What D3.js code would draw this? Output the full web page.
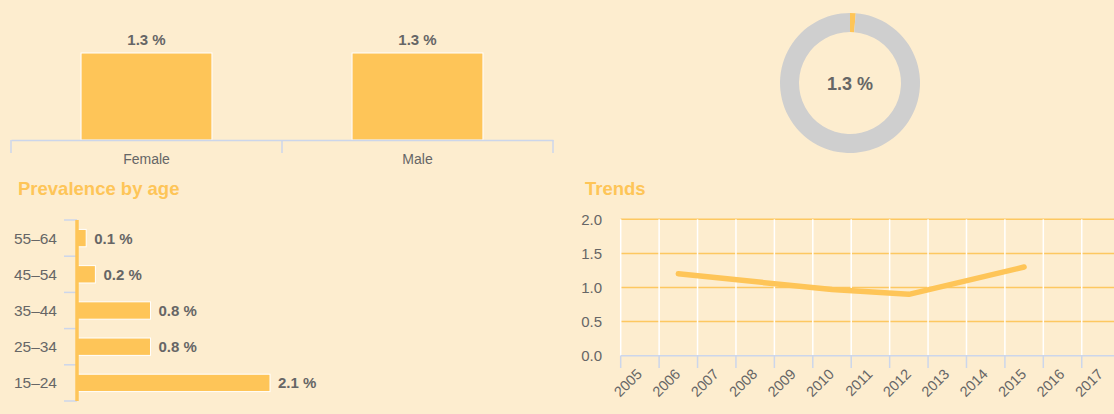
<!DOCTYPE html>
<html>
<head>
<meta charset="utf-8">
<script src="https://cdn.jsdelivr.net/npm/d3@7"></script>
<style>
  html, body { margin: 0; padding: 0; background: #fdedcf; }
  svg { display: block; }
  text { font-family: "Liberation Sans", Arial, sans-serif; }
</style>
</head>
<body>
<svg id="chart" width="1114" height="414"></svg>
<script>
// ---- Data ----
const sexCategories = ["Female", "Male"];
const sexValues = [1.3, 1.3];

const totalValue = 1.3;

const ageCategories = ["55–64", "45–54", "35–44", "25–34", "15–24"];
const ageValues = [0.1, 0.2, 0.8, 0.8, 2.1];

const trendYears = ["2005","2006","2007","2008","2009","2010","2011","2012","2013","2014","2015","2016","2017"];
const trendPointYears = ["2006", "2010", "2012", "2015"];
const trendPointValues = [1.2, 0.97, 0.9, 1.3];
const trendYTicks = [0, 0.5, 1.0, 1.5, 2.0];

const titles = ["Prevalence by age", "Trends"];

// ---- Styles ----
const BAR = "#fec558";
const TEXT = "#666666";
const AXIS = "#ccd6eb";
const DONUT_GREY = "#cfcfcf";

const svg = d3.select("#chart");

// ===== Top-left: bars by sex =====
{
  const g = svg.append("g");
  const x = d3.scaleBand().domain(sexCategories).range([11, 553]).paddingInner(0.517).paddingOuter(0.2585);
  const y = d3.scaleLinear().domain([0, 1.3]).range([140, 53]);

  g.selectAll("rect").data(sexValues).join("rect")
    .attr("x", (d, i) => x(sexCategories[i]))
    .attr("y", d => y(d))
    .attr("width", x.bandwidth())
    .attr("height", d => y(0) - y(d))
    .attr("fill", BAR)
    .attr("stroke", "#ffffff").attr("stroke-width", 1);

  g.selectAll("text.val").data(sexValues).join("text").attr("class", "val")
    .attr("x", (d, i) => x(sexCategories[i]) + x.bandwidth() / 2)
    .attr("y", d => y(d) - 8)
    .attr("text-anchor", "middle")
    .attr("font-size", 15).attr("font-weight", "bold").attr("fill", TEXT)
    .text(d => d.toFixed(1) + " %");

  const ax = g.append("g").attr("transform", "translate(0,140)")
    .call(d3.axisBottom(x).tickSize(0).tickSizeOuter(0));
  ax.select(".domain").attr("stroke", AXIS).attr("stroke-width", 1.5);
  ax.selectAll("text").attr("font-size", 14).attr("fill", TEXT).attr("dy", "1.5em")
    .attr("font-family", "'Liberation Sans', Arial, sans-serif");
  // ticks at band boundaries
  const tickPos = [11, (x(sexCategories[0]) + x.bandwidth() / 2 + x(sexCategories[1]) + x.bandwidth() / 2) / 2, 553];
  g.selectAll("line.tk").data(tickPos).join("line").attr("class", "tk")
    .attr("x1", d => d).attr("x2", d => d).attr("y1", 140).attr("y2", 153)
    .attr("stroke", AXIS).attr("stroke-width", 1.5);
}

// ===== Top-right: donut =====
{
  const g = svg.append("g").attr("transform", "translate(850,83)");
  const pie = d3.pie().sort(null).value(d => d);
  const arcs = pie([totalValue, 100 - totalValue]);
  const arc = d3.arc().innerRadius(51).outerRadius(70);
  g.selectAll("path").data(arcs).join("path")
    .attr("d", arc)
    .attr("fill", (d, i) => i === 0 ? BAR : DONUT_GREY);
  g.append("text").attr("x", 0).attr("y", 7).attr("text-anchor", "middle")
    .attr("font-size", 18).attr("font-weight", "bold").attr("fill", TEXT)
    .text(totalValue.toFixed(1) + " %");
}

// ===== Titles =====
svg.append("text").attr("x", 18).attr("y", 195)
  .attr("font-size", 18.5).attr("font-weight", "bold").attr("fill", BAR).text(titles[0]);
svg.append("text").attr("x", 585).attr("y", 195)
  .attr("font-size", 18.5).attr("font-weight", "bold").attr("fill", BAR).text(titles[1]);

// ===== Bottom-left: prevalence by age =====
{
  const g = svg.append("g");
  const y = d3.scaleBand().domain(ageCategories).range([220, 401]).paddingInner(0.52).paddingOuter(0.26);
  const x = d3.scaleLinear().domain([0, 2.1]).range([77, 270]);

  const step = y.step();
  const tickYs = d3.range(ageCategories.length + 1).map(i => 220 + i * step);
  g.selectAll("line.tk").data(tickYs).join("line").attr("class", "tk")
    .attr("x1", 64).attr("x2", 77).attr("y1", d => d).attr("y2", d => d)
    .attr("stroke", AXIS).attr("stroke-width", 1.5);

  g.selectAll("rect").data(ageValues).join("rect")
    .attr("x", x(0))
    .attr("y", (d, i) => y(ageCategories[i]))
    .attr("width", d => x(d) - x(0))
    .attr("height", y.bandwidth())
    .attr("fill", BAR)
    .attr("stroke", "#ffffff").attr("stroke-width", 1);

  g.append("line").attr("x1", 77).attr("x2", 77).attr("y1", 220).attr("y2", 401)
    .attr("stroke", BAR).attr("stroke-width", 3.5);

  g.selectAll("text.cat").data(ageCategories).join("text").attr("class", "cat")
    .attr("x", 57).attr("y", d => y(d) + y.bandwidth() / 2 + 5.5)
    .attr("text-anchor", "end").attr("font-size", 15.5).attr("fill", TEXT)
    .text(d => d);

  g.selectAll("text.val").data(ageValues).join("text").attr("class", "val")
    .attr("x", d => x(d) + 8)
    .attr("y", (d, i) => y(ageCategories[i]) + y.bandwidth() / 2 + 5.5)
    .attr("font-size", 15).attr("font-weight", "bold").attr("fill", TEXT)
    .text(d => d.toFixed(1) + " %");
}

// ===== Bottom-right: trends =====
{
  const g = svg.append("g");
  const step = 38.42;
  const x0 = 620.7;
  const x = d3.scaleBand().domain(trendYears).range([x0, x0 + step * trendYears.length]);
  const y = d3.scaleLinear().domain([0, 2]).range([355.7, 219.3]);

  g.selectAll("line.hg").data(trendYTicks.filter(v => v > 0)).join("line").attr("class", "hg")
    .attr("x1", x0).attr("x2", 1114).attr("y1", d => y(d)).attr("y2", d => y(d))
    .attr("stroke", "#fdc861").attr("stroke-width", 1.5);

  g.selectAll("line.vg").data(trendYears).join("line").attr("class", "vg")
    .attr("x1", d => x(d)).attr("x2", d => x(d)).attr("y1", 219.3).attr("y2", 355.7)
    .attr("stroke", "#ffffff").attr("stroke-width", 1.5);

  g.append("line").attr("x1", x0).attr("x2", 1114).attr("y1", 355.7).attr("y2", 355.7)
    .attr("stroke", AXIS).attr("stroke-width", 1.5);
  g.selectAll("line.tk").data(trendYears).join("line").attr("class", "tk")
    .attr("x1", d => x(d)).attr("x2", d => x(d)).attr("y1", 355.7).attr("y2", 368)
    .attr("stroke", AXIS).attr("stroke-width", 1.5);

  g.selectAll("text.yr").data(trendYears).join("text").attr("class", "yr")
    .attr("transform", d => `translate(${x(d) + x.bandwidth() / 2 + 3},375) rotate(-45)`)
    .attr("text-anchor", "end").attr("font-size", 14.5).attr("fill", TEXT)
    .text(d => d);

  g.selectAll("text.yl").data(trendYTicks).join("text").attr("class", "yl")
    .attr("x", 602).attr("y", d => y(d) + 5.5)
    .attr("text-anchor", "end").attr("font-size", 15).attr("fill", TEXT)
    .text(d => d.toFixed(1));

  const line = d3.line()
    .x((d, i) => x(trendPointYears[i]) + x.bandwidth() / 2)
    .y(d => y(d));
  g.append("path").datum(trendPointValues)
    .attr("d", line)
    .attr("fill", "none").attr("stroke", BAR).attr("stroke-width", 5.5)
    .attr("stroke-linecap", "round").attr("stroke-linejoin", "round");
}
</script>
</body>
</html>
